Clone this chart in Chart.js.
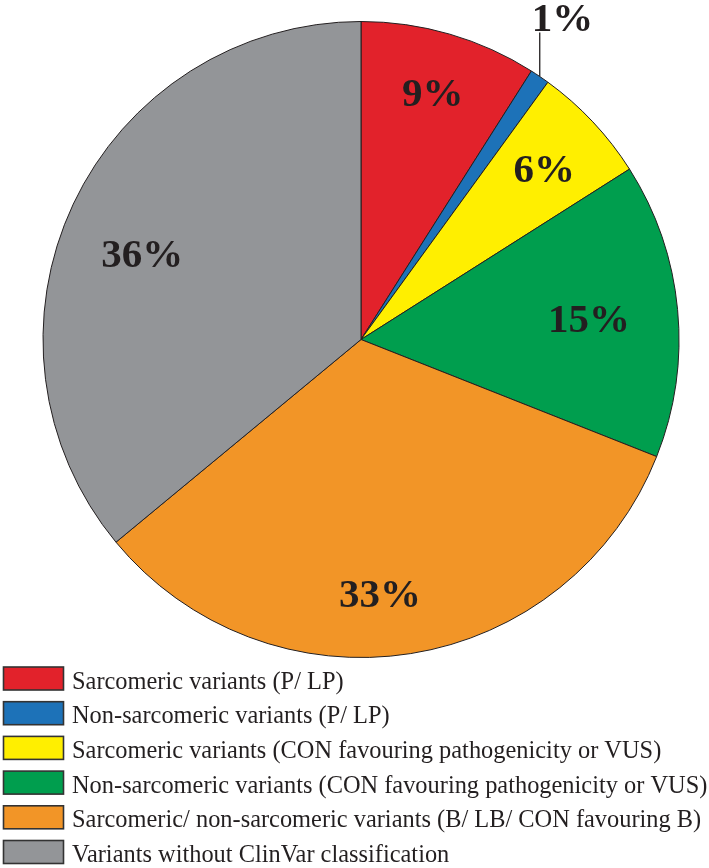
<!DOCTYPE html>
<html>
<head>
<meta charset="utf-8">
<script src="https://cdn.jsdelivr.net/npm/chart.js@4/dist/chart.umd.min.js"></script>
<style>
html,body{margin:0;padding:0;background:#fff;}
canvas{display:block;}
</style>
</head>
<body>
<canvas id="c" width="709" height="868"></canvas>
<script>
const categories = [
  'Sarcomeric variants (P/ LP)',
  'Non-sarcomeric variants (P/ LP)',
  'Sarcomeric variants (CON favouring pathogenicity or VUS)',
  'Non-sarcomeric variants (CON favouring pathogenicity or VUS)',
  'Sarcomeric/ non-sarcomeric variants (B/ LB/ CON favouring B)',
  'Variants without ClinVar classification'
];
const percentages = [9, 1, 6, 15, 33, 36];
const sliceColors = ['#E2222B', '#1D72B8', '#FFEF00', '#009E4E', '#F29527', '#939598'];

const SERIF = '"Liberation Serif", "Times New Roman", serif';
const INK = '#231f20';

const sliceLabelPlugin = {
  id: 'sliceLabels',
  afterDatasetsDraw(chart, args, opts) {
    const meta = chart.getDatasetMeta(0);
    const ctx = chart.ctx;
    const values = chart.data.datasets[0].data;
    ctx.save();
    ctx.font = 'bold 41px ' + SERIF;
    ctx.fillStyle = INK;
    meta.data.forEach((arc, i) => {
      const p = arc.getProps(['x', 'y', 'startAngle', 'endAngle', 'outerRadius'], true);
      const txt = values[i] + '%';
      const mid = (p.startAngle + p.endAngle) / 2;
      if (values[i] < opts.outsideBelow) {
        const rx = p.x + p.outerRadius * Math.cos(mid);
        const ry = p.y + p.outerRadius * Math.sin(mid);
        const topY = ry - opts.leaderLength;
        ctx.strokeStyle = INK;
        ctx.lineWidth = 1.3;
        ctx.beginPath();
        ctx.moveTo(rx, ry);
        ctx.lineTo(rx, topY);
        ctx.stroke();
        ctx.textAlign = 'left';
        ctx.textBaseline = 'alphabetic';
        ctx.fillText(txt, rx - 8, topY - 1);
      } else {
        const pl = opts.placement[i];
        const a = mid + pl[1] * Math.PI / 180;
        const r = pl[0] * p.outerRadius;
        ctx.textAlign = 'center';
        ctx.textBaseline = 'alphabetic';
        ctx.fillText(txt, p.x + r * Math.cos(a), p.y + r * Math.sin(a) + 14);
      }
    });
    ctx.restore();
  }
};

const stackedLegendPlugin = {
  id: 'stackedLegend',
  afterDraw(chart, args, o) {
    const ctx = chart.ctx;
    const ds = chart.data.datasets[0];
    const top = chart.chartArea.bottom + o.firstOffset;
    ctx.save();
    ctx.font = o.fontSize + 'px ' + SERIF;
    ctx.textAlign = 'left';
    ctx.textBaseline = 'alphabetic';
    chart.data.labels.forEach((lab, i) => {
      const cy = top + i * o.rowGap;
      ctx.fillStyle = ds.backgroundColor[i];
      ctx.fillRect(o.left, cy - o.boxH / 2, o.boxW, o.boxH);
      ctx.strokeStyle = '#333';
      ctx.lineWidth = 1.6;
      ctx.strokeRect(o.left, cy - o.boxH / 2, o.boxW, o.boxH);
      ctx.fillStyle = INK;
      ctx.fillText(lab, o.textX, cy + 10);
    });
    ctx.restore();
  }
};

new Chart(document.getElementById('c'), {
  type: 'pie',
  data: {
    labels: categories,
    datasets: [{
      data: percentages,
      backgroundColor: sliceColors,
      borderColor: INK,
      borderWidth: 1
    }]
  },
  options: {
    responsive: false,
    animation: false,
    layout: { padding: { left: 42, right: 29, top: 21, bottom: 210 } },
    plugins: {
      legend: { display: false },
      tooltip: { enabled: false },
      sliceLabels: {
        outsideBelow: 3,
        leaderLength: 44,
        placement: [[0.81, 0], [0, 0], [0.79, 0], [0.72, 0], [0.8, 4.7], [0.74, -3.6]]
      },
      stackedLegend: {
        firstOffset: 20.5,
        rowGap: 34.7,
        left: 3.5,
        boxW: 60,
        boxH: 23,
        textX: 72,
        fontSize: 24.4
      }
    }
  },
  plugins: [sliceLabelPlugin, stackedLegendPlugin]
});
</script>
</body>
</html>
